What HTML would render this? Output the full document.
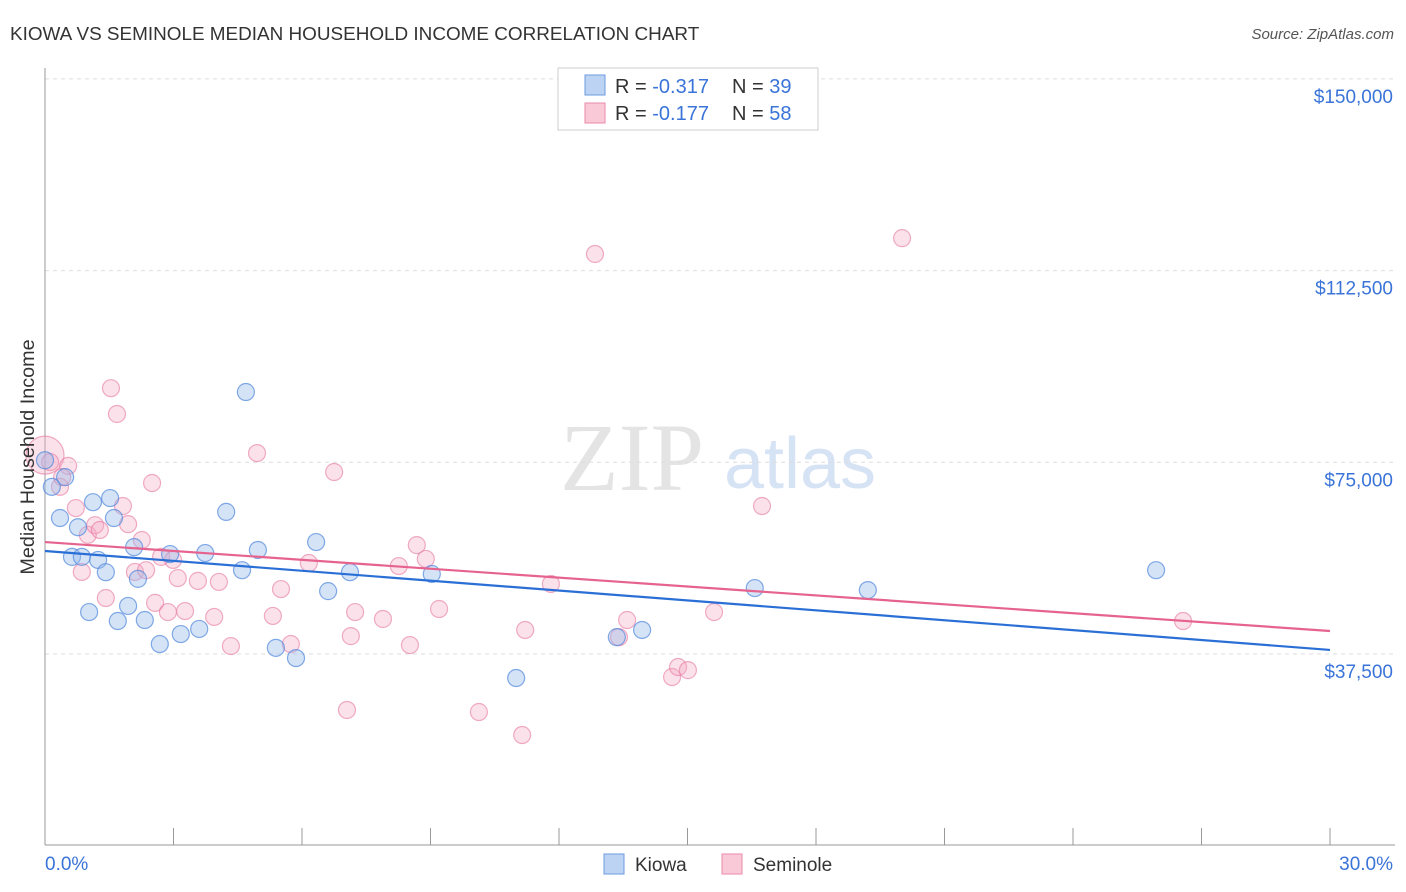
<!DOCTYPE html>
<html><head><meta charset="utf-8"><style>
body{margin:0;background:#fff;font-family:"Liberation Sans",sans-serif;}
svg{display:block}
</style></head><body>
<svg id="chart" width="1406" height="892">
<text x="10" y="40" font-size="18.9" fill="#333">KIOWA VS SEMINOLE MEDIAN HOUSEHOLD INCOME CORRELATION CHART</text>
<text x="1394" y="39" font-size="15" fill="#555" text-anchor="end" font-style="italic">Source: ZipAtlas.com</text>
<g>
<text x="632" y="490" font-size="96" fill="#e4e4e4" font-family="Liberation Serif,serif" text-anchor="middle">ZIP</text>
<text x="800" y="488" font-size="72" fill="#d6e3f5" text-anchor="middle">atlas</text>
</g>
<g id="grid"></g>
<g id="axes"></g>
<g id="marks"></g>
<g id="trends"></g>
<g>
<rect x="558" y="68" width="260" height="62" fill="#fff" stroke="#ccc"/>
<rect x="585" y="75" width="20" height="20" fill="#bcd3f3" stroke="#6d9be0"/>
<text x="615" y="93" font-size="20" fill="#333">R = <tspan fill="#3a74d8">-0.317</tspan></text>
<text x="732" y="93" font-size="20" fill="#333">N = <tspan fill="#3a74d8">39</tspan></text>
<rect x="585" y="103" width="20" height="20" fill="#f9c9d8" stroke="#e98aa8"/>
<text x="615" y="120" font-size="20" fill="#333">R = <tspan fill="#3a74d8">-0.177</tspan></text>
<text x="732" y="120" font-size="20" fill="#333">N = <tspan fill="#3a74d8">58</tspan></text>
</g>
<g>
<rect x="604" y="854" width="20" height="20" fill="#bcd3f3" stroke="#6d9be0"/>
<text x="635" y="871" font-size="19" fill="#333">Kiowa</text>
<rect x="722" y="854" width="20" height="20" fill="#f9c9d8" stroke="#e98aa8"/>
<text x="753" y="871" font-size="19" fill="#333">Seminole</text>
</g>
<text transform="translate(34,457) rotate(-90)" font-size="19.8" fill="#333" text-anchor="middle">Median Household Income</text>
</svg>
<script>
const yTicks=[37500,75000,112500,150000];
const yTickLabels=["$37,500","$75,000","$112,500","$150,000"];
const xTickLabels=["0.0%","30.0%"];
const kiowaX=[0,0.16,0.35,0.47,0.77,0.63,0.86,1.03,1.12,1.24,1.42,1.52,1.61,1.70,1.94,2.08,2.17,2.33,2.68,2.92,3.17,3.60,3.74,4.23,4.60,4.69,4.97,5.39,5.86,6.33,6.61,7.12,9.03,11.0,13.35,13.94,16.57,19.21,25.94];
const kiowaY=[75400,70200,64100,72100,62300,56500,56500,45700,67200,55900,53500,68000,64100,43950,46900,58400,52200,44150,39450,57050,41400,42400,57250,65300,53900,88750,57850,38700,36700,59400,49800,53500,53150,32800,40800,42200,50400,50000,53900];
const semX=[0,0.12,0.35,0.54,0.40,0.72,0.86,1.00,1.17,1.28,1.42,1.54,1.68,1.82,1.94,2.10,2.26,2.36,2.50,2.57,2.71,2.87,2.99,3.10,3.27,3.57,3.95,4.06,4.34,4.95,5.32,5.51,5.74,6.16,6.75,7.05,7.14,7.24,7.89,8.26,8.52,8.68,8.89,9.20,10.13,11.14,11.21,11.81,12.84,13.40,13.59,14.64,14.78,15.01,15.62,16.74,20.01,26.57];
const semY=[76400,75050,70200,74300,72100,66050,53550,60800,62700,61750,48450,89500,84450,66450,62900,53550,59800,53900,70950,47500,56500,45700,55900,52350,45900,51800,44750,51600,39050,76800,44950,50200,39450,55300,73100,26550,41000,45700,44350,54700,39250,58800,56100,46300,26150,21650,42200,51200,115750,40800,44150,33000,34950,34350,45700,66450,118850,43950];
const kiowaTrend=[57650,38300];
const semTrend=[59400,42000];
const NS="http://www.w3.org/2000/svg";
const X=p=>45+p/30*1285;
const Y=v=>654-(v-37500)*191.7/37500;
function mk(tag,attrs,parent){const e=document.createElementNS(NS,tag);for(const k in attrs)e.setAttribute(k,attrs[k]);document.getElementById(parent).appendChild(e);return e;}
yTicks.forEach((t,i)=>{
 const l=mk('line',{x1:45,x2:1395,y1:Y(t),y2:Y(t),stroke:'#ddd','stroke-dasharray':'4,4'},'grid');
 
 
 const tx=mk('text',{x:1393,y:Y(t)+24,'font-size':19,fill:'#3a74d8','text-anchor':'end'},'grid');
 tx.textContent=yTickLabels[i];
 
 
});
mk('line',{x1:45,x2:45,y1:68,y2:845,stroke:'#999'},'axes');
mk('line',{x1:45,x2:1395,y1:845,y2:845,stroke:'#999'},'axes');
for(let i=0;i<=10;i++){const t=mk('line',{x1:X(i*3),x2:X(i*3),y1:828,y2:845,stroke:'#999'},'axes');}
[[0,'start',45],[30,'end',1393]].forEach((a,i)=>{const t=mk('text',{x:a[2],y:870,'font-size':19,fill:'#3a74d8','text-anchor':a[1]},'axes');t.textContent=xTickLabels[i];});
semX.forEach((x,i)=>{
 const c=mk('circle',{cx:X(x),cy:Y(semY[i]),r:i===0?19:8.5,fill:'rgba(244,170,195,0.35)',stroke:'rgba(230,120,160,0.6)','stroke-width':1.2},'marks');
 
 
});
kiowaX.forEach((x,i)=>{
 const c=mk('circle',{cx:X(x),cy:Y(kiowaY[i]),r:8.5,fill:'rgba(150,185,235,0.4)',stroke:'rgba(80,135,220,0.7)','stroke-width':1.2},'marks');
 
 
});
const t1=mk('line',{x1:X(0),x2:X(30),y1:Y(kiowaTrend[0]),y2:Y(kiowaTrend[1]),stroke:'#2a6fd6','stroke-width':2.2},'trends');


const t2=mk('line',{x1:X(0),x2:X(30),y1:Y(semTrend[0]),y2:Y(semTrend[1]),stroke:'#e5638e','stroke-width':2.2},'trends');


</script>
</body></html>
